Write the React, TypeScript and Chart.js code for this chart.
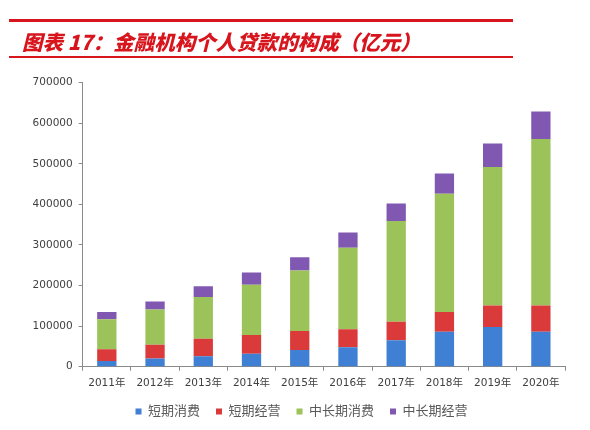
import React, { useEffect, useRef } from "react";
import { Chart, registerables } from "chart.js";

Chart.register(...registerables);

const categories = ["2011年", "2012年", "2013年", "2014年", "2015年", "2016年", "2017年", "2018年", "2019年", "2020年"];
const shortConsume = [14000, 20000, 26000, 32000, 41000, 48000, 65000, 86000, 98000, 86000];
const shortBusiness = [29000, 34000, 43000, 46000, 47000, 44000, 46000, 49000, 53000, 65000];
const longConsume = [74000, 87000, 103000, 124000, 149000, 201000, 248000, 291000, 341000, 410000];
const longBusiness = [18000, 20000, 26000, 30000, 33000, 38000, 43000, 50000, 58000, 68000];
const seriesNames = ["短期消费", "短期经营", "中长期消费", "中长期经营"];
const seriesColors = ["#3f7fd4", "#db3a3a", "#9cc25a", "#8058b2"];
const yMax = 700000;
const yStep = 100000;

const FONT = '"DejaVu Sans", "Noto Sans CJK SC", sans-serif';
const RED = "#d8141c";

const shiftLegend = {
  id: "shiftLegend",
  afterLayout(chart: any) {
    const l = chart.legend;
    if (l) {
      l.left += 19;
      l.right += 19;
    }
  },
};

export default function App() {
  const ref = useRef<HTMLCanvasElement>(null);

  useEffect(() => {
    document.body.style.margin = "0";
    const canvas = ref.current;
    if (!canvas) return;
    const values = [shortConsume, shortBusiness, longConsume, longBusiness];
    const chart = new Chart(canvas, {
      type: "bar",
      data: {
        labels: categories,
        datasets: values.map((v, i) => ({
          label: seriesNames[i],
          data: v,
          backgroundColor: seriesColors[i],
          borderWidth: 0,
          categoryPercentage: 1,
          barPercentage: 0.4,
        })),
      },
      plugins: [shiftLegend],
      options: {
        responsive: false,
        animation: false,
        devicePixelRatio: 1,
        layout: { padding: { top: 82.7, right: 25, bottom: 2, left: 0 } },
        plugins: {
          tooltip: { enabled: false },
          legend: {
            position: "bottom",
            labels: {
              boxWidth: 6,
              boxHeight: 6,
              padding: 16,
              color: "#595959",
              font: { family: FONT, size: 13 },
            },
          },
        },
        scales: {
          x: {
            stacked: true,
            afterFit: (s: any) => {
              s.height = 22.3;
            },
            grid: {
              display: true,
              drawOnChartArea: false,
              drawTicks: true,
              tickLength: 4,
              color: "#8a8a8a",
              offset: true,
            },
            border: { display: true, color: "#8a8a8a", width: 1 },
            ticks: {
              color: "#404040",
              padding: 6,
              maxRotation: 0,
              autoSkip: false,
              font: { family: FONT, size: 10.5 },
            },
          },
          y: {
            stacked: true,
            min: 0,
            max: yMax,
            afterFit: (s: any) => {
              s.width = 82.7;
            },
            grid: {
              display: true,
              drawOnChartArea: false,
              drawTicks: true,
              tickLength: 4,
              color: "#8a8a8a",
            },
            border: { display: true, color: "#8a8a8a", width: 1 },
            ticks: {
              stepSize: yStep,
              color: "#404040",
              padding: 6,
              font: { family: FONT, size: 10.5 },
              callback: (v: any) => String(v),
            },
          },
        },
      },
    });
    return () => chart.destroy();
  }, []);

  return (
    <div style={{ position: "absolute", left: 0, top: 0, width: 590, height: 430, background: "#fff", overflow: "hidden" }}>
      <canvas ref={ref} width={590} height={430} style={{ position: "absolute", left: 0, top: 0, width: 590, height: 430 }} />
      <div style={{ position: "absolute", left: 9, top: 18.5, width: 504, height: 3, background: RED }} />
      <div style={{ position: "absolute", left: 9, top: 56, width: 504, height: 2, background: RED }} />
      <div
        style={{
          position: "absolute",
          left: 22,
          top: 29,
          color: RED,
          fontFamily: '"Noto Sans CJK SC", sans-serif',
          fontWeight: 900,
          fontStyle: "italic",
          fontSize: 20.5,
          lineHeight: "24px",
          whiteSpace: "nowrap",
        }}
      >
        图表 17：金融机构个人贷款的构成（亿元）
      </div>
    </div>
  );
}
